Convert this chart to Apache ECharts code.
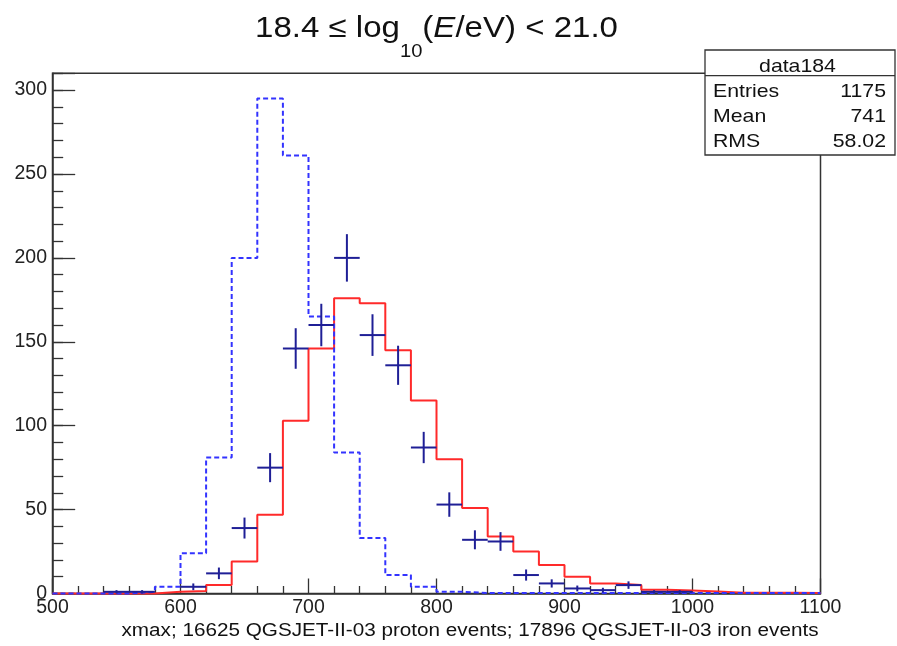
<!DOCTYPE html>
<html>
<head>
<meta charset="utf-8">
<script src="https://cdn.jsdelivr.net/npm/echarts@6/dist/echarts.min.js"></script>
<style>
html,body{margin:0;padding:0;background:#fff;}
#chart{width:897px;height:646px;}
</style>
</head>
<body>
<div id="chart"></div>
<script>
// ---- data (bins of 20 g/cm^2 from 500 to 1100) ----
const binStart = 500;
const binWidth = 20;
// iron simulation (red, solid histogram), per bin
const ironCounts = [0, 0, 0, 0, 1, 1.5, 5, 19, 47, 103, 146, 176, 173, 145, 115, 80, 51, 34, 25, 17, 10, 6, 5, 2.2, 1.8, 1.2, 0.5, 0.5, 0.5, 0.3];
// proton simulation (blue, dashed histogram), per bin
const protonCounts = [0, 0, 0, 1, 4, 24, 81, 200, 295, 261, 165, 84, 33, 11, 4, 1, 0.3, 0.3, 0.3, 0.3, 0.3, 0.3, 0.3, 0.3, 0.3, 0.3, 0.3, 0.3, 0.3, 0.3];
// measured data (crosses with sqrt(N) errors), per bin
const dataCounts = [0, 0, 1, 1, 0, 4, 12, 39, 75, 146, 160, 200, 154, 136, 87, 53, 32, 31, 11, 6, 3, 2, 5, 1, 1, 0, 0, 0, 0, 0];

const statsTitle = 'data184';
const statsLabels = ['Entries', 'Mean', 'RMS'];
const statsValues = ['1175', '741', '58.02'];
const xAxisTitle = 'xmax; 16625 QGSJET-II-03 proton events; 17896 QGSJET-II-03 iron events';

// ---- helpers ----
function stepPoints(vals) {
  const pts = vals.map((v, i) => [binStart + i * binWidth, v]);
  pts.push([binStart + vals.length * binWidth, vals[vals.length - 1]]);
  return pts;
}
const dataPoints = dataCounts
  .map((v, i) => [binStart + (i + 0.5) * binWidth, v])
  .filter(d => d[1] > 0);

const ctx = document.createElement('canvas').getContext('2d');
function textW(t, font) { ctx.font = font; return ctx.measureText(t).width; }

const FF = '"Liberation Sans", Arial, Helvetica, sans-serif';

// ---- title built of pieces (subscript + italic) ----
const titleMain = 29.5, titleSub = 18;
const titlePieces = [
  { t: '18.4 \u2264 log', size: titleMain, style: 'normal', sub: false },
  { t: '10', size: titleSub, style: 'normal', sub: true },
  { t: '(', size: titleMain, style: 'normal', sub: false },
  { t: 'E', size: titleMain, style: 'italic', sub: false },
  { t: '/eV) < 21.0', size: titleMain, style: 'normal', sub: false }
];
const titleScaleX = 1.12;
let cursor = 0;
const titleChildren = titlePieces.map(p => {
  const font = p.style + ' ' + p.size + 'px ' + FF;
  const w = textW(p.t, font);
  const el = {
    type: 'text',
    x: cursor,
    y: p.sub ? 23.5 : 0,
    style: {
      text: p.t, fontSize: p.size, fontStyle: p.style, fontFamily: FF,
      fill: '#111', align: 'left', verticalAlign: 'middle'
    }
  };
  cursor += w;
  return el;
});
const titleWidth = cursor * titleScaleX;

const statsScale = 1.15;
const statsFont = 18.5;
const rowY = [91.9, 116.9, 141.9];

const graphic = [
  {
    type: 'group', x: 436.5 - titleWidth / 2, y: 29, scaleX: titleScaleX, z: 100,
    children: titleChildren
  },
  {
    type: 'rect', z: 100,
    shape: { x: 705, y: 50, width: 190, height: 105 },
    style: { fill: '#fff', stroke: '#333', lineWidth: 1.3 }
  },
  {
    type: 'line', z: 101,
    shape: { x1: 705, y1: 75.7, x2: 895, y2: 75.7 },
    style: { stroke: '#333', lineWidth: 1.3 }
  },
  {
    type: 'text', z: 101, x: 797.5, y: 67, scaleX: statsScale,
    style: { text: statsTitle, fontSize: statsFont, fontFamily: FF, fill: '#111', align: 'center', verticalAlign: 'middle' }
  }
];
statsLabels.forEach((lab, i) => {
  graphic.push({
    type: 'text', z: 101, x: 713, y: rowY[i], scaleX: statsScale,
    style: { text: lab, fontSize: statsFont, fontFamily: FF, fill: '#111', align: 'left', verticalAlign: 'middle' }
  });
  graphic.push({
    type: 'text', z: 101, x: 886, y: rowY[i], scaleX: statsScale,
    style: { text: statsValues[i], fontSize: statsFont, fontFamily: FF, fill: '#111', align: 'right', verticalAlign: 'middle' }
  });
});
// x-axis title, right aligned at the frame end
const xtFont = 17.5;
const xtW = textW(xAxisTitle, xtFont + 'px ' + FF);
graphic.push({
  type: 'text', z: 100, x: 818.5, y: 631.5, scaleX: 697 / xtW,
  style: { text: xAxisTitle, fontSize: xtFont, fontFamily: FF, fill: '#111', align: 'right', verticalAlign: 'middle' }
});

const axisColor = '#333';

const option = {
  animation: false,
  backgroundColor: '#fff',
  grid: {
    left: 52.5, right: 76.5, top: 73.3, bottom: 52.5,
    show: true, borderColor: axisColor, borderWidth: 1.5, containLabel: false
  },
  xAxis: {
    type: 'value', min: 500, max: 1100, interval: 100,
    axisLine: { show: true, onZero: false, lineStyle: { color: axisColor, width: 1.5 } },
    axisTick: { show: true, inside: true, length: 15, lineStyle: { color: axisColor, width: 1.3 } },
    minorTick: { show: true, splitNumber: 5, length: 7.5, lineStyle: { color: axisColor, width: 1.3 } },
    axisLabel: { fontSize: 19.5, fontFamily: FF, color: '#222', margin: 4, formatter: v => String(v) },
    splitLine: { show: false }
  },
  yAxis: [
    {
      type: 'value', min: 0, max: 310, interval: 10,
      axisLine: { show: true, onZero: false, lineStyle: { color: axisColor, width: 1.5 } },
      axisTick: { show: true, inside: true, length: 10.7, lineStyle: { color: axisColor, width: 1.3 } },
      axisLabel: {
        fontSize: 19.5, fontFamily: FF, color: '#222', margin: 5.5,
        formatter: v => (v % 50 === 0 && v <= 300) ? String(v) : ''
      },
      splitLine: { show: false }
    },
    {
      type: 'value', min: 0, max: 310, interval: 50, position: 'left',
      axisLine: { show: false },
      axisTick: { show: true, inside: true, length: 22.7, lineStyle: { color: axisColor, width: 1.3 } },
      axisLabel: { show: false },
      splitLine: { show: false }
    }
  ],
  series: [
    {
      name: 'iron', type: 'line', step: 'end', data: stepPoints(ironCounts),
      symbol: 'none', clip: false, z: 3,
      lineStyle: { color: '#ff2a2a', width: 2 }
    },
    {
      name: 'proton', type: 'line', step: 'end', data: stepPoints(protonCounts),
      symbol: 'none', clip: false, z: 4,
      lineStyle: { color: '#3333ff', width: 2, type: [5, 3] }
    },
    {
      name: 'data', type: 'custom', data: dataPoints, z: 5, clip: false,
      renderItem: function (params, api) {
        const x = api.value(0), y = api.value(1), e = Math.sqrt(y);
        const l = api.coord([x - binWidth / 2, y]);
        const r = api.coord([x + binWidth / 2, y]);
        const t = api.coord([x, y + e]);
        const b = api.coord([x, Math.max(0, y - e)]);
        const st = { stroke: '#1f1f96', lineWidth: 2 };
        return {
          type: 'group',
          children: [
            { type: 'line', shape: { x1: l[0], y1: l[1], x2: r[0], y2: r[1] }, style: st },
            { type: 'line', shape: { x1: t[0], y1: t[1], x2: b[0], y2: b[1] }, style: st }
          ]
        };
      }
    }
  ],
  graphic: graphic
};

const chart = echarts.init(document.getElementById('chart'), null, { renderer: 'canvas' });
chart.setOption(option);
</script>
</body>
</html>
